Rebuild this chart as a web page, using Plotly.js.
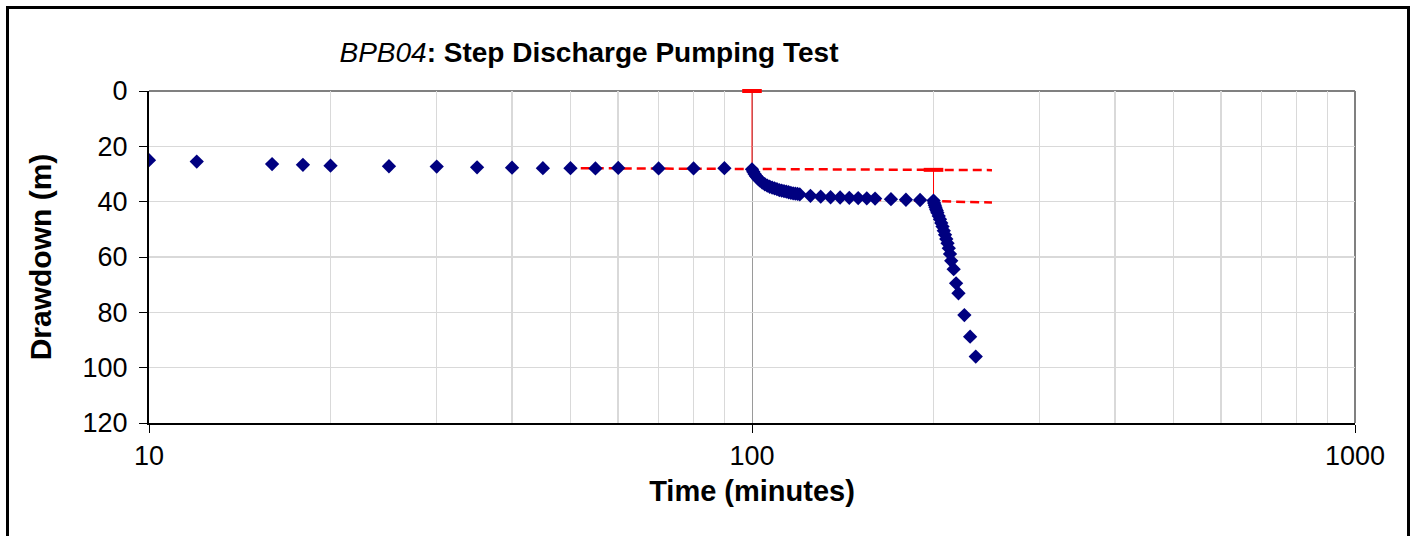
<!DOCTYPE html>
<html>
<head>
<meta charset="utf-8">
<script src="https://cdn.plot.ly/plotly-3.0.1.min.js"></script>
<style>
  html, body { margin: 0; padding: 0; background: #fff; }
  #wrap { position: relative; width: 1412px; height: 536px; overflow: hidden; }
  #chart { width: 1412px; height: 536px; }
  #frame { position: absolute; left: 6px; top: 6px; width: 1398px; height: 560px;
           border: 3px solid #000; pointer-events: none; }
</style>
</head>
<body>
<div id="wrap">
  <div id="chart"></div>
  <div id="frame"></div>
</div>
<script>
// Observed drawdown data (time in minutes, drawdown in m)
const timeMin = [
  10, 12, 16, 18, 20, 25, 30, 35, 40, 45, 50, 55, 60, 70, 80, 90,
  100, 100.5, 101, 101.5, 102, 102.5, 103, 104, 105, 106, 107, 108, 109, 110,
  111, 112, 113, 114, 115, 116, 117, 118, 119, 120,
  125, 130, 135, 140, 145, 150, 155, 160, 170, 180, 190,
  200, 200.5, 201, 201.5, 202, 202.5, 203, 204, 205, 206, 207, 208, 209, 210,
  211, 212, 213, 214, 216, 218, 220, 225, 230, 235
];
const drawdownM = [
  25.0, 25.5, 26.4, 26.7, 27.0, 27.2, 27.3, 27.6, 27.7, 27.9, 27.9, 28.0, 27.8, 28.0, 28.0, 27.9,
  28.3, 29.2, 30.0, 30.7, 31.3, 31.8, 32.3, 33.1, 33.7, 34.2, 34.6, 34.9, 35.2, 35.5,
  35.8, 36.0, 36.2, 36.4, 36.6, 36.8, 37.0, 37.1, 37.2, 37.4,
  37.9, 38.2, 38.4, 38.5, 38.6, 38.7, 38.8, 38.9, 39.1, 39.3, 39.4,
  39.6, 40.5, 41.3, 42.0, 42.7, 43.3, 44.0, 45.2, 46.4, 47.7, 49.0, 50.5, 52.0, 53.5,
  55.0, 56.8, 58.9, 61.4, 64.4, 69.5, 73.1, 81.0, 88.8, 96.0
];

// Stabilised-level trend lines (red dashed)
const fit1Time = [52, 250];
const fit1Dd = [27.9, 28.6];
const fit2Time = [150, 250];
const fit2Dd = [39.2, 40.3];

// Step change markers (red vertical lines with cap)
const step1Time = [100, 100];
const step1Dd = [0, 28.3];
const step2Time = [200, 200];
const step2Dd = [28.5, 39.6];

// Axis ticks
const xTickVals = [10, 100, 1000];
const xTickText = ['10', '100', '1000'];
const xMinorVals = [20, 30, 40, 50, 60, 70, 80, 90, 200, 300, 400, 500, 600, 700, 800, 900];
const yTickVals = [0, 20, 40, 60, 80, 100, 120];

const FONT = 'Liberation Sans, Arial, sans-serif';
const RED = '#ff0000';

const traces = [
  { x: fit1Time, y: fit1Dd, mode: 'lines', line: { color: RED, width: 2.5, dash: '9px,5px' }, hoverinfo: 'skip', showlegend: false },
  { x: fit2Time, y: fit2Dd, mode: 'lines', line: { color: RED, width: 2.5, dash: '9px,5px' }, hoverinfo: 'skip', showlegend: false },
  { x: step1Time, y: step1Dd, mode: 'lines', line: { color: RED, width: 1 }, hoverinfo: 'skip', showlegend: false },
  { x: step2Time, y: step2Dd, mode: 'lines', line: { color: RED, width: 1 }, hoverinfo: 'skip', showlegend: false },
  { x: [step1Time[0], step2Time[0]], y: [step1Dd[0], step2Dd[0]], mode: 'markers',
    marker: { symbol: 'line-ew-open', size: 14, color: RED, line: { color: RED, width: 4 } },
    hoverinfo: 'skip', showlegend: false, cliponaxis: false },
  { x: timeMin, y: drawdownM, mode: 'markers', name: 'Drawdown',
    marker: { symbol: 'diamond', size: 11, color: '#000080', line: { width: 0 } }, showlegend: false }
];

const layout = {
  width: 1412, height: 536,
  margin: { l: 149, r: 57, t: 91, b: 113 },
  paper_bgcolor: '#ffffff', plot_bgcolor: '#ffffff',
  font: { family: FONT, color: '#000' },
  title: {
    text: '<i>BPB04</i><b>: Step Discharge Pumping Test</b>',
    font: { family: FONT, size: 28, color: '#000' },
    xref: 'container', x: 589 / 1412, xanchor: 'center',
    yref: 'container', y: 1 - 52 / 536, yanchor: 'middle'
  },
  xaxis: {
    type: 'log', range: [1, 3],
    tickmode: 'array', tickvals: xTickVals, ticktext: xTickText,
    ticks: 'outside', ticklen: 8, tickwidth: 1, tickcolor: '#000',
    tickfont: { family: FONT, size: 27, color: '#000' },
    showgrid: true, gridcolor: '#9a9a9a', gridwidth: 1,
    minor: { tickmode: 'array', tickvals: xMinorVals, showgrid: true, gridcolor: '#d9d9d9', gridwidth: 1.5, ticks: '' },
    showline: true, linecolor: '#000', linewidth: 2,
    zeroline: false,
    title: { text: '<b>Time (minutes)</b>', font: { family: FONT, size: 29, color: '#000' }, standoff: 10 }
  },
  yaxis: {
    range: [120, 0], autorange: false,
    tickmode: 'array', tickvals: yTickVals,
    ticks: 'outside', ticklen: 8, tickwidth: 1, tickcolor: '#000',
    tickfont: { family: FONT, size: 27, color: '#000' },
    ticklabelstandoff: 6,
    showgrid: true, gridcolor: '#d9d9d9', gridwidth: 1.5,
    showline: true, linecolor: '#000', linewidth: 2,
    zeroline: false,
    title: { text: '<b>Drawdown (m)</b>', font: { family: FONT, size: 30, color: '#000' }, standoff: 22 }
  },
  shapes: [
    { type: 'line', layer: 'below', xref: 'paper', yref: 'paper', x0: 0, x1: 1, y0: 1, y1: 1, line: { color: '#808080', width: 2 } },
    { type: 'line', layer: 'below', xref: 'paper', yref: 'paper', x0: 1, x1: 1, y0: 0, y1: 1, line: { color: '#808080', width: 2 } }
  ],
  showlegend: false
};

Plotly.newPlot('chart', traces, layout, { displayModeBar: false, staticPlot: true });
</script>
</body>
</html>
